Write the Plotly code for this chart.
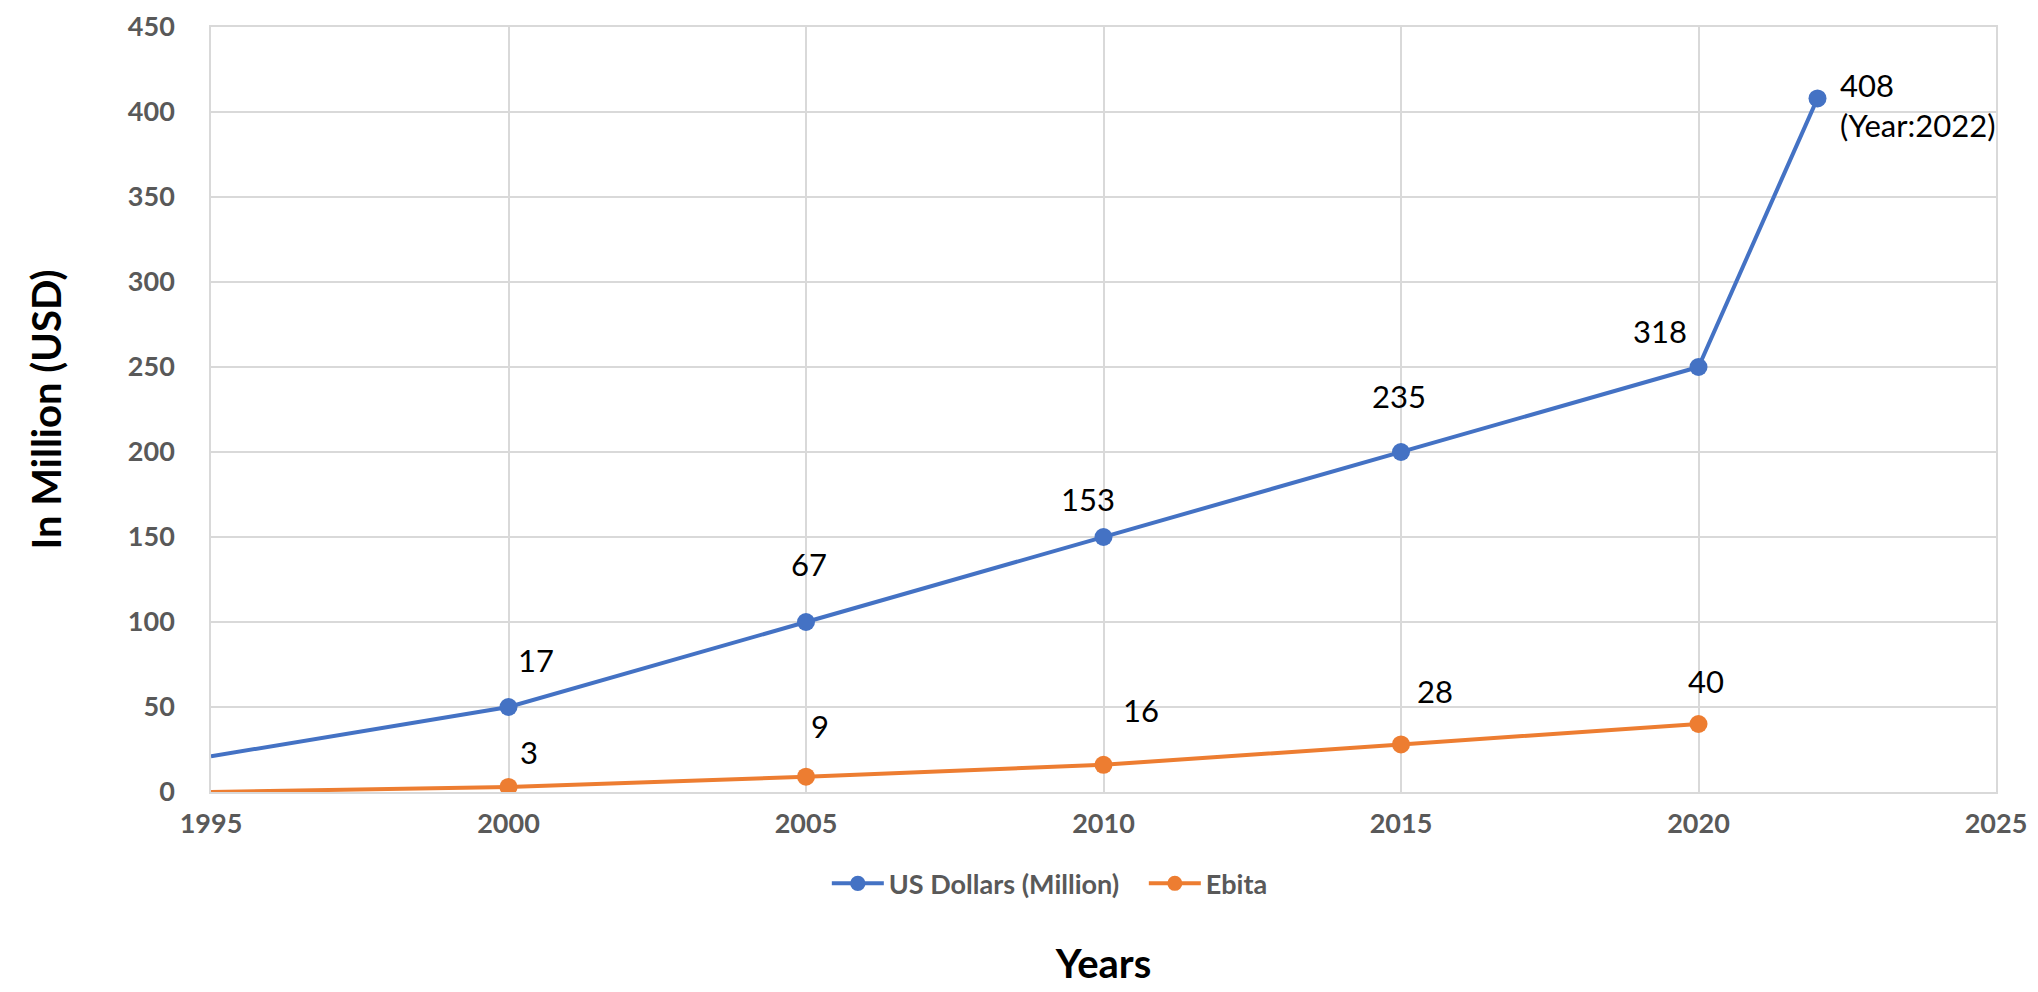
import plotly.graph_objects as go

# ---- data ----
years_usd = [1995, 2000, 2005, 2010, 2015, 2020, 2022]
usd_values = [21, 50, 100, 150, 200, 250, 408]
usd_labels = ["", "17", "67", "153", "235", "318", "408<br>(Year:2022)"]

years_ebita = [1995, 2000, 2005, 2010, 2015, 2020]
ebita_values = [0, 3, 9, 16, 28, 40]
ebita_labels = ["", "3", "9", "16", "28", "40"]

x_ticks = [1995, 2000, 2005, 2010, 2015, 2020, 2025]
y_ticks = [0, 50, 100, 150, 200, 250, 300, 350, 400, 450]

# ---- style ----
BLUE = "#4472C4"
ORANGE = "#ED7D31"
GRID = "#D9D9D9"
TICK = "#595959"
FONT = "Lato"
MSIZE = 18

# label offsets (pixels) relative to each point
usd_offsets = [(0, 0), (27, 47), (3, 58), (-16, 38), (-2, 56), (-39, 36), (20, -7)]
ebita_offsets = [(0, 0), (20, 35), (14, 51), (37, 55), (34, 53), (7, 43)]

fig = go.Figure()

usd_sizes = [0] + [MSIZE] * (len(years_usd) - 1)
ebita_sizes = [0] + [MSIZE] * (len(years_ebita) - 1)

fig.add_trace(go.Scatter(
    x=years_usd, y=usd_values, mode="lines+markers", name="US Dollars (Million)",
    line=dict(color=BLUE, width=4),
    marker=dict(color=BLUE, size=usd_sizes, opacity=1, line=dict(width=0)),
))
fig.add_trace(go.Scatter(
    x=years_ebita, y=ebita_values, mode="lines+markers", name="Ebita",
    line=dict(color=ORANGE, width=4),
    marker=dict(color=ORANGE, size=ebita_sizes, opacity=1, line=dict(width=0)),
))

annotations = []
for xv, yv, lab, (dx, dy) in zip(years_usd, usd_values, usd_labels, usd_offsets):
    if not lab:
        continue
    multi = "<br>" in lab
    annotations.append(dict(
        x=xv, y=yv, xref="x", yref="y", text=lab, showarrow=False,
        xshift=dx, yshift=dy, xanchor="left" if multi else "center",
        align="left", font=dict(family=FONT, size=31, color="black"),
    ))
for xv, yv, lab, (dx, dy) in zip(years_ebita, ebita_values, ebita_labels, ebita_offsets):
    if not lab:
        continue
    annotations.append(dict(
        x=xv, y=yv, xref="x", yref="y", text=lab, showarrow=False,
        xshift=dx, yshift=dy, xanchor="center",
        font=dict(family=FONT, size=31, color="black"),
    ))

fig.update_layout(
    width=2038, height=992,
    margin=dict(l=203, r=50, t=19, b=208),
    paper_bgcolor="white", plot_bgcolor="white",
    font=dict(family=FONT),
    annotations=annotations,
    showlegend=True,
    legend=dict(
        orientation="h", x=0.345, y=-0.12, xanchor="left", yanchor="middle",
        font=dict(family=FONT, size=27, color=TICK, weight="bold"),
        itemwidth=52, entrywidth=250, entrywidthmode="pixels", tracegroupgap=0,
    ),
    xaxis=dict(
        range=[1995, 2025], tickvals=x_ticks, ticktext=[str(v) for v in x_ticks],
        showgrid=True, gridcolor=GRID, gridwidth=1.5,
        showline=True, linecolor=GRID, linewidth=1.5, mirror=True,
        zeroline=False, ticks="", automargin=False,
        tickfont=dict(family=FONT, size=27, color=TICK, weight="bold"),
        ticklabelstandoff=7,
        title=dict(text="Years", standoff=112,
                   font=dict(family=FONT, size=40, color="black", weight="bold")),
    ),
    yaxis=dict(
        range=[0, 450], tickvals=y_ticks, ticktext=[str(v) for v in y_ticks],
        showgrid=True, gridcolor=GRID, gridwidth=1.5,
        showline=True, linecolor=GRID, linewidth=1.5, mirror=True,
        zeroline=False, ticks="", automargin=False,
        tickfont=dict(family=FONT, size=27, color=TICK, weight="bold"),
        ticklabelstandoff=29,
        title=dict(text="In Million (USD)", standoff=54,
                   font=dict(family=FONT, size=40, color="black", weight="bold")),
    ),
)

fig.write_html("out.html")
